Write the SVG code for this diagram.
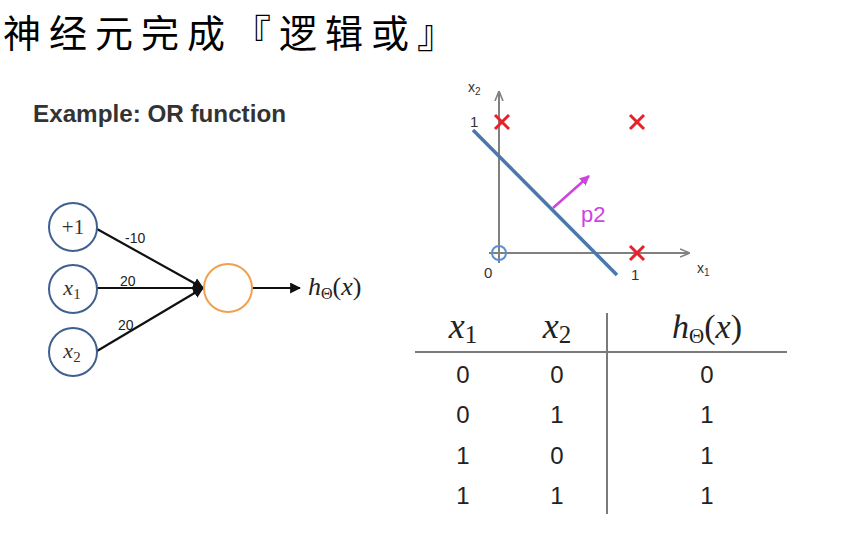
<svg xmlns="http://www.w3.org/2000/svg" width="852" height="533" viewBox="0 0 852 533">
<style>
.cjk{font-family:"Noto Sans CJK SC","Noto Sans CJK JP",sans-serif;}
.sans{font-family:"Liberation Sans",Arial,sans-serif;}
.math{font-family:"Liberation Serif","DejaVu Serif",serif;}
.it{font-style:italic;}
.node{fill:#fff;stroke:#3f5f8f;stroke-width:2;}
.edge{stroke:#111;stroke-width:2.2;fill:none;}
.axis{stroke:#808080;stroke-width:2;fill:none;}
.cross{stroke:#e8202a;stroke-width:3;}
.rule{stroke:#7a7a7a;stroke-width:2;}
.cell{font-family:"Liberation Sans",Arial,sans-serif;font-size:24px;fill:#222;text-anchor:middle;}
</style>
<defs>
<marker id="ah" viewBox="0 0 10 10" refX="9" refY="5" markerWidth="5" markerHeight="5" orient="auto" markerUnits="strokeWidth">
<path d="M0,0 L10,5 L0,10 z" fill="#111"/>
</marker>
<marker id="ahg" viewBox="0 0 10 10" refX="9" refY="5" markerWidth="5" markerHeight="5" orient="auto" markerUnits="strokeWidth">
<path d="M0,1 L10,5 L0,9" fill="none" stroke="#808080" stroke-width="1.6"/>
</marker>
<marker id="ahm" viewBox="0 0 10 10" refX="9" refY="5" markerWidth="4" markerHeight="4" orient="auto" markerUnits="strokeWidth">
<path d="M0,0 L10,5 L0,10 z" fill="#cc44dd"/>
</marker>
</defs>
<rect width="852" height="533" fill="#fff"/>

<text id="title" class="cjk" x="3" y="47" font-size="38" letter-spacing="8" fill="#000">神经元完成『逻辑或』</text>

<text id="example" class="sans" x="33" y="122" font-size="23" font-weight="bold" fill="#333" textLength="253" lengthAdjust="spacingAndGlyphs">Example: OR function</text>

<g id="connectors">
<line class="edge" x1="97" y1="229" x2="203" y2="288" marker-end="url(#ah)"/>
<line class="edge" x1="97" y1="288" x2="203" y2="288" marker-end="url(#ah)"/>
<line class="edge" x1="97" y1="351" x2="203" y2="288" marker-end="url(#ah)"/>
<line class="edge" x1="252" y1="288" x2="300" y2="288" marker-end="url(#ah)"/>
<text class="sans" x="125" y="243" font-size="14" fill="#222">-10</text>
<text class="sans" x="120" y="286" font-size="14" fill="#222">20</text>
<text class="sans" x="118" y="330" font-size="14" fill="#222">20</text>
</g>

<g id="n-bias">
<circle class="node" cx="73" cy="227" r="24"/>
<text class="math" x="73" y="234" font-size="21" text-anchor="middle" fill="#333">+1</text>
</g>
<g id="n-x1">
<circle class="node" cx="73" cy="289" r="24"/>
<text class="math" x="72" y="295" font-size="22" text-anchor="middle" fill="#333"><tspan class="it">x</tspan><tspan font-size="15" dy="4">1</tspan></text>
</g>
<g id="n-x2">
<circle class="node" cx="73" cy="352" r="24"/>
<text class="math" x="72" y="358" font-size="22" text-anchor="middle" fill="#333"><tspan class="it">x</tspan><tspan font-size="15" dy="4">2</tspan></text>
</g>
<g id="n-out">
<circle cx="228" cy="288" r="24" fill="#fff" stroke="#f0a050" stroke-width="2"/>
</g>
<g id="n-h">
<text class="math" x="308" y="295" font-size="26" fill="#222"><tspan class="it">h</tspan><tspan font-size="16" dy="4">Θ</tspan><tspan dy="-4">(</tspan><tspan class="it">x</tspan><tspan>)</tspan></text>
</g>

<g id="plot">
<line class="axis" x1="499" y1="263" x2="499" y2="92" marker-end="url(#ahg)"/>
<line class="axis" x1="489" y1="253" x2="689" y2="253" marker-end="url(#ahg)"/>
<text class="sans" x="468" y="92" font-size="14" fill="#333">x<tspan font-size="10" dy="3">2</tspan></text>
<text class="sans" x="697" y="273" font-size="14" fill="#333">x<tspan font-size="10" dy="3">1</tspan></text>
<text class="sans" x="470" y="127" font-size="15" fill="#333">1</text>
<text class="sans" x="484" y="278" font-size="15" fill="#333">0</text>
<text class="sans" x="631" y="280" font-size="15" fill="#333">1</text>
<g class="cross">
<line x1="495" y1="115" x2="509" y2="129"/><line x1="509" y1="115" x2="495" y2="129"/>
<line x1="630" y1="115" x2="644" y2="129"/><line x1="644" y1="115" x2="630" y2="129"/>
<line x1="630" y1="246" x2="644" y2="260"/><line x1="644" y1="246" x2="630" y2="260"/>
</g>
<circle cx="499" cy="253" r="7" fill="none" stroke="#5b8fd0" stroke-width="2"/>
<line x1="473" y1="130" x2="617" y2="275" stroke="#4a78ac" stroke-width="3.5"/>
<line x1="553" y1="208" x2="589" y2="176" stroke="#cc44dd" stroke-width="2.5" marker-end="url(#ahm)"/>
<text class="sans" x="581" y="222" font-size="22" fill="#cc44dd">p2</text>
</g>

<g id="table">
<line class="rule" x1="415" y1="352" x2="787" y2="352"/>
<line class="rule" x1="607" y1="313" x2="607" y2="514"/>
<text class="math" x="463" y="338" font-size="36" text-anchor="middle" fill="#222"><tspan class="it">x</tspan><tspan font-size="25" dy="5">1</tspan></text>
<text class="math" x="557" y="338" font-size="36" text-anchor="middle" fill="#222"><tspan class="it">x</tspan><tspan font-size="25" dy="5">2</tspan></text>
<text class="math" x="707" y="338" font-size="34" text-anchor="middle" fill="#222"><tspan class="it">h</tspan><tspan font-size="21" dy="5">Θ</tspan><tspan dy="-5">(</tspan><tspan class="it">x</tspan><tspan>)</tspan></text>
<text class="cell" x="463" y="383">0</text><text class="cell" x="557" y="383">0</text><text class="cell" x="707" y="383">0</text>
<text class="cell" x="463" y="423">0</text><text class="cell" x="557" y="423">1</text><text class="cell" x="707" y="423">1</text>
<text class="cell" x="463" y="464">1</text><text class="cell" x="557" y="464">0</text><text class="cell" x="707" y="464">1</text>
<text class="cell" x="463" y="504">1</text><text class="cell" x="557" y="504">1</text><text class="cell" x="707" y="504">1</text>
</g>
</svg>
